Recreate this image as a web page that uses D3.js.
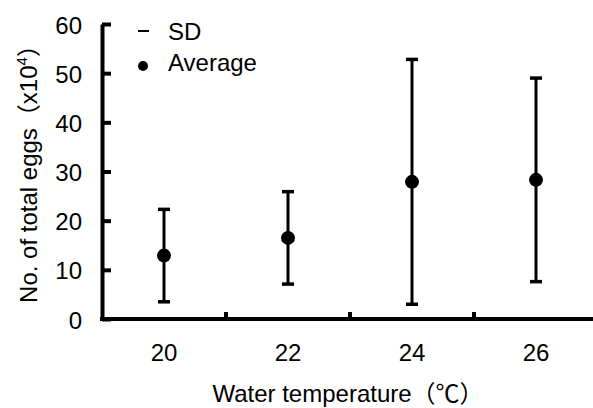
<!DOCTYPE html>
<html>
<head>
<meta charset="utf-8">
<script src="https://cdn.jsdelivr.net/npm/d3@7"></script>
<style>
  body { margin: 0; background: #fff; }
  text { font-family: "Liberation Sans", Arial, "Noto Sans CJK JP", sans-serif; fill: #000; }
</style>
</head>
<body>
<div id="chart"></div>
<script>
var temps = ["20", "22", "24", "26"];
var averages = [12.9, 16.5, 27.9, 28.3];
var sds = [9.4, 9.4, 24.9, 20.7];
var yTicks = [0, 10, 20, 30, 40, 50, 60];

var w = 593;
var h = 408;

var svg = d3.select("#chart").append("svg").attr("width", w).attr("height", h);
svg.append("rect").attr("width", w).attr("height", h).attr("fill", "#fff");

var x = d3.scaleBand().domain(temps).range([102, 598]);
var y = d3.scaleLinear().domain([0, 60]).range([319, 24]);

var data = temps.map(function (t, i) {
  return { t: t, avg: averages[i], sd: sds[i] };
});

// y axis, ticks pointing inward
var yAxis = svg
  .append("g")
  .attr("transform", "translate(102,0)")
  .call(d3.axisLeft(y).tickValues(yTicks).tickSizeInner(-9).tickSizeOuter(0).tickPadding(20));
yAxis.select(".domain").attr("stroke", "#000").attr("stroke-width", 4);
yAxis.selectAll(".tick line").attr("stroke", "#000").attr("stroke-width", 4);
yAxis.selectAll(".tick text").attr("font-size", "24px").attr("font-family", null).attr("dy", "0.38em");

// x axis
var xAxis = svg
  .append("g")
  .attr("transform", "translate(0,319)")
  .call(d3.axisBottom(x).tickSize(0).tickPadding(25));
xAxis.select(".domain").attr("stroke", "#000").attr("stroke-width", 4).attr("d", "M100,0H593");
xAxis.selectAll(".tick text").attr("font-size", "24px").attr("font-family", null);

// category dividers
svg
  .selectAll(".divider")
  .data(temps.slice(0, 3))
  .enter()
  .append("line")
  .attr("class", "divider")
  .attr("x1", function (d) { return x(d) + x.bandwidth(); })
  .attr("x2", function (d) { return x(d) + x.bandwidth(); })
  .attr("y1", 319)
  .attr("y2", 312)
  .attr("stroke", "#000")
  .attr("stroke-width", 4);

// error bars
var cx = function (d) { return x(d.t) + x.bandwidth() / 2; };
var bars = svg.selectAll(".err").data(data).enter().append("g").attr("class", "err");
bars
  .append("line")
  .attr("x1", cx)
  .attr("x2", cx)
  .attr("y1", function (d) { return y(d.avg - d.sd); })
  .attr("y2", function (d) { return y(d.avg + d.sd); })
  .attr("stroke", "#000")
  .attr("stroke-width", 3);
[1, -1].forEach(function (s) {
  bars
    .append("line")
    .attr("x1", function (d) { return cx(d) - 6; })
    .attr("x2", function (d) { return cx(d) + 6; })
    .attr("y1", function (d) { return y(d.avg + s * d.sd); })
    .attr("y2", function (d) { return y(d.avg + s * d.sd); })
    .attr("stroke", "#000")
    .attr("stroke-width", 3.5);
});
bars
  .append("circle")
  .attr("cx", cx)
  .attr("cy", function (d) { return y(d.avg); })
  .attr("r", 7)
  .attr("fill", "#000");

// legend
svg.append("line").attr("x1", 138).attr("x2", 149).attr("y1", 31).attr("y2", 31)
  .attr("stroke", "#000").attr("stroke-width", 2);
svg.append("text").attr("x", 168).attr("y", 40).attr("font-size", "24px").text("SD");
svg.append("circle").attr("cx", 143).attr("cy", 66).attr("r", 5).attr("fill", "#000");
svg.append("text").attr("x", 168).attr("y", 71).attr("font-size", "24px").text("Average");

// axis titles
svg.append("text")
  .attr("x", 348)
  .attr("y", 402)
  .attr("text-anchor", "middle")
  .attr("font-size", "24px")
  .text("Water temperature（℃）");

var yt = svg.append("text")
  .attr("transform", "translate(37,168) rotate(-90)")
  .attr("text-anchor", "middle")
  .attr("font-size", "24px");
yt.append("tspan").text("No. of total eggs（x10");
yt.append("tspan").attr("font-size", "15px").attr("dy", -10).text("4");
yt.append("tspan").attr("dy", 10).text("）");
</script>
</body>
</html>
